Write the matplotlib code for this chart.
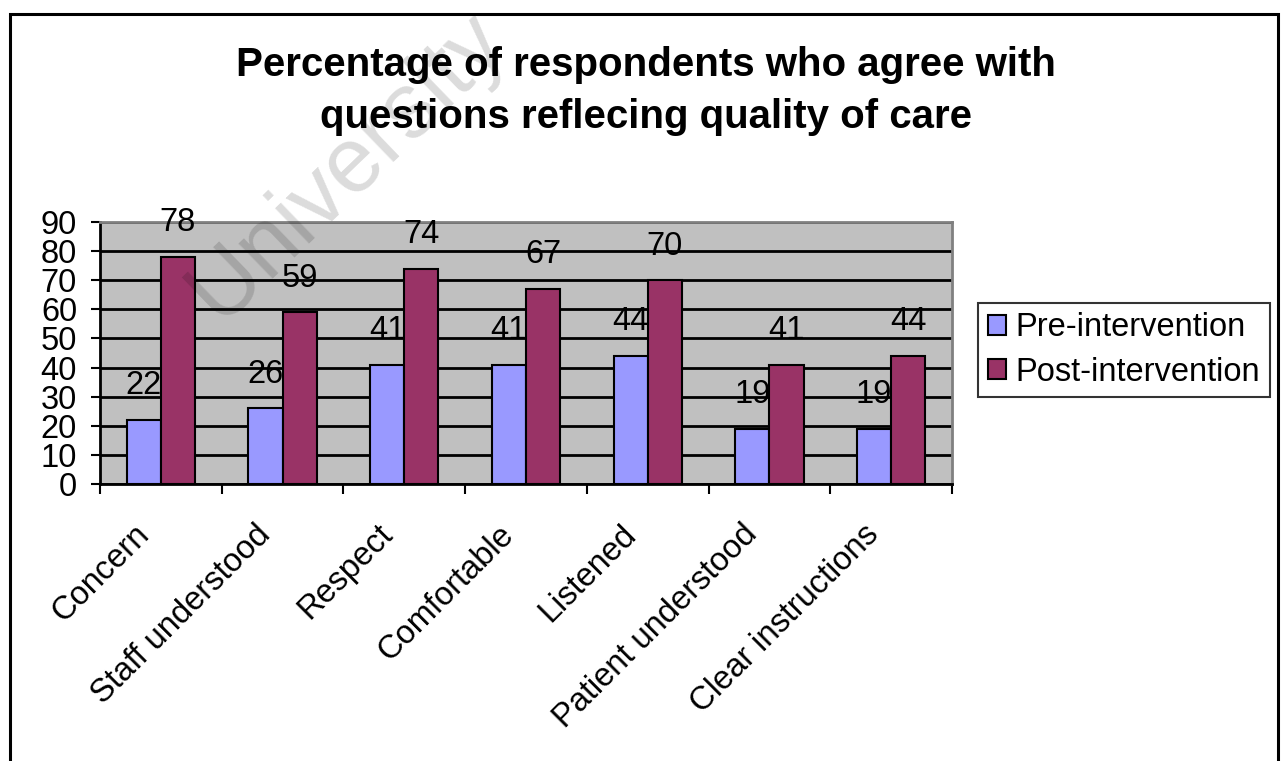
import numpy as np
import matplotlib
matplotlib.use("Agg")
import matplotlib.pyplot as plt
from matplotlib.patches import Rectangle

categories = ["Concern", "Staff understood", "Respect", "Comfortable",
              "Listened", "Patient understood", "Clear instructions"]
pre = [22, 26, 41, 41, 44, 19, 19]
post = [78, 59, 74, 67, 70, 41, 44]
series_names = ["Pre-intervention", "Post-intervention"]
yticks = list(range(0, 100, 10))

plt.rcParams["font.family"] = ["Liberation Sans", "DejaVu Sans"]
FS = 23.5


def main():
    fig = plt.figure(figsize=(12.86, 7.61), dpi=100)
    fig.patch.set_facecolor("white")

    # outer chart border
    fig.patches.append(Rectangle((10 / 1286, -0.05), 1268 / 1286, 1.05 - 14 / 761,
                                 transform=fig.transFigure, fill=False,
                                 edgecolor="black", linewidth=2.2, zorder=0))

    ax = fig.add_axes([100 / 1286, 1 - 484 / 761, 852 / 1286, 262 / 761])
    ax.set_facecolor("#C0C0C0")

    x = np.arange(len(categories))
    w = 0.28
    b1 = ax.bar(x - w / 2, pre, w, color="#9999FF", edgecolor="black",
                linewidth=1.5, label=series_names[0], zorder=3)
    b2 = ax.bar(x + w / 2, post, w, color="#993366", edgecolor="black",
                linewidth=1.5, label=series_names[1], zorder=3)

    for bars, vals in ((b1, pre), (b2, post)):
        for rect, v in zip(bars, vals):
            ax.annotate(str(v), (rect.get_x() + rect.get_width() / 2, v),
                        xytext=(0, 24.5), textcoords="offset points",
                        ha="center", va="center", fontsize=FS, zorder=5,
                        annotation_clip=False)

    ax.set_xlim(-0.5, len(categories) - 0.5)
    ax.set_ylim(0, 90)
    ax.set_yticks(yticks)
    ax.tick_params(axis="y", labelsize=FS, length=6.5, width=1.5, pad=10)
    ax.grid(axis="y", color="black", linewidth=2, zorder=1)
    ax.set_axisbelow(True)

    # ticks between categories, labels at category centres
    ax.set_xticks(np.arange(len(categories) + 1) - 0.5)
    ax.set_xticklabels([])
    ax.tick_params(axis="x", length=7, width=1.5, direction="out")
    for i, name in enumerate(categories):
        ax.annotate(name, (i, 0), xytext=(-12, -33), textcoords="offset points",
                    rotation=45, rotation_mode="anchor", ha="right", va="center",
                    fontsize=FS, annotation_clip=False)

    for side in ("top", "right"):
        ax.spines[side].set_color("#808080")
        ax.spines[side].set_linewidth(2)
    for side in ("left", "bottom"):
        ax.spines[side].set_color("black")
        ax.spines[side].set_linewidth(2)

    fig.text(646 / 1286, 1 - 91 / 761,
             "Percentage of respondents who agree with\nquestions reflecing quality of care",
             ha="center", va="center", fontsize=29, fontweight="bold",
             linespacing=1.5)

    leg = fig.legend(handles=[b1, b2], loc="center",
                     bbox_to_anchor=(1124 / 1286, 1 - 350 / 761),
                     fontsize=FS, frameon=True, fancybox=False,
                     handlelength=0.55, handleheight=0.55, handletextpad=0.3,
                     borderpad=0.3, labelspacing=0.4, borderaxespad=0)
    leg.get_frame().set_edgecolor("black")
    leg.get_frame().set_linewidth(1.5)

    # faint watermark across the upper left
    fig.text(348 / 1286, 1 - 166 / 761, "University",
             rotation=44, ha="center", va="center", fontsize=66,
             color="black", alpha=0.14, zorder=10)

    fig.savefig("out.png", dpi=100)


if __name__ == "__main__":
    main()
